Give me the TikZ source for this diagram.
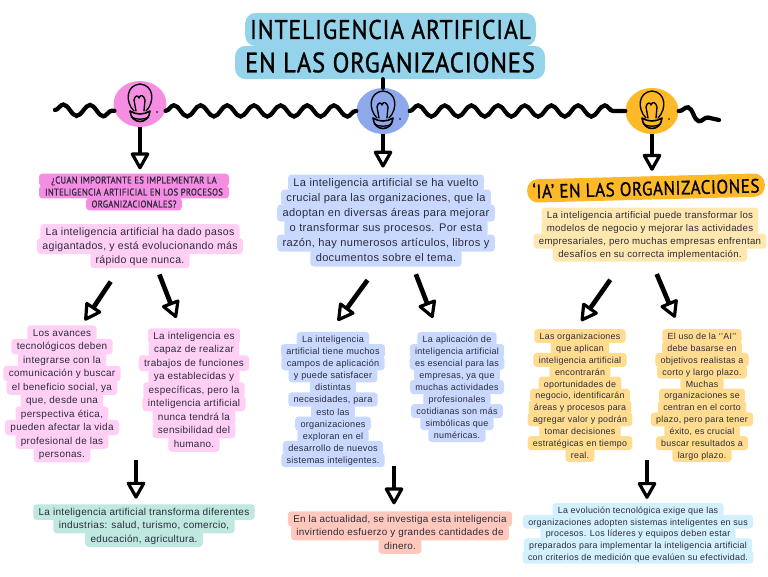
\documentclass[tikz,border=0pt]{standalone}
\usepackage{fontspec}
\usepackage{tikz}
\usetikzlibrary{arrows.meta,shapes.geometric,decorations.pathmorphing}
\newfontfamily\cuerpo[LetterSpace=3]{Liberation Sans}
\newfontfamily\rotulo[LetterSpace=3,FakeStretch=0.88,FakeBold=1]{PT Sans}
\definecolor{celeste}{HTML}{95D3EA}
\definecolor{rosa}{HTML}{F58EE3}
\definecolor{rosaclaro}{HTML}{FFCFF5}
\definecolor{azul}{HTML}{8DA9EC}
\definecolor{azulclaro}{HTML}{C9D8FF}
\definecolor{ambar}{HTML}{FDB927}
\definecolor{ambarclaro}{HTML}{FFDC90}
\definecolor{crema}{HTML}{FFE7B0}
\definecolor{verdeagua}{HTML}{BFE8E0}
\definecolor{salmon}{HTML}{FFC8BD}
\definecolor{cielo}{HTML}{D3F0FF}
\definecolor{tinta}{HTML}{2B2B3A}
\tikzset{
  tam/.style={font=\cuerpo\fontsize{#1}{#1}\selectfont},
  linea/.style={text=tinta, inner xsep=4pt, inner ysep=0pt, rounded corners=2.5pt, text height=.72em, text depth=.2em},
  blob/.style={ellipse, inner sep=0pt, minimum width=39.75pt, minimum height=34.5pt},
  trazo/.style={line width=3.5pt, line cap=round},
  onda/.style={line width=3.2pt, line cap=round, decorate, decoration={snake, segment length=20pt, amplitude=4.2pt}},
  flecha/.style={line width=3.5pt, -{Triangle[open, length=14pt, width=15pt, line width=2.4pt, round]}},
  bombilla/.pic={
    \draw[line width=1pt, line cap=round, line join=round] (-6,7) .. controls (-15,-2) and (-14,-19) .. (0,-20) .. controls (14,-19) and (15,-2) .. (6,7);
    \draw[line width=1pt, line cap=round, line join=round] (-4,7) -- (-6,-4) .. controls (-5,-9) and (-2,-9) .. (-1,-6) .. controls (0,-10) and (4,-9) .. (5,-4) -- (4,7);
    \draw[line width=1.2pt, line cap=round, line join=round] (-10,7) .. controls (-9,21) and (9,21) .. (10,7) .. controls (4,11) and (-4,11) .. (-10,7);
    \draw[line width=1pt] (-9,13) .. controls (-3,16) and (3,16) .. (9,13);
    \fill (17,8) circle (.6pt);
  }
}
% one highlighted node per printed line
\newcommand{\bloque}[6]{
  \foreach \texto [count=\i] in {#6} {
    \node[linea, #5, minimum height=(#4+2)*0.75pt] (#1-\i) at (#2,{#3+(\i-1)*#4}) {\texto};
  }
}
\begin{document}
\begin{tikzpicture}[x=0.75pt, y=-0.75pt]
  \useasboundingbox (0,0) rectangle (768,576);

  % title
  \node[fill=celeste, rounded corners=8pt, inner sep=0pt, minimum width=218pt, minimum height=25pt, font=\rotulo\fontsize{20.2}{20.2}\selectfont] (titulo1) at (390.5,29.5) {INTELIGENCIA ARTIFICIAL};
  \node[fill=celeste, rounded corners=8pt, inner sep=0pt, minimum width=232.5pt, minimum height=25pt, font=\rotulo\fontsize{21}{21}\selectfont] (titulo2) at (390,62.5) {EN LAS ORGANIZACIONES\hspace{14.5pt}};

  % bulbs and wave
  \node[blob, fill=rosa] (bulbo1) at (140,104) {};
  \node[blob, fill=azul] (bulbo2) at (383,111) {};
  \node[blob, fill=ambar] (bulbo3) at (652,111) {};
  \pic at (bulbo1) {bombilla};
  \pic at (bulbo2) {bombilla};
  \pic at (bulbo3) {bombilla};
  \coordinate (ondaizq) at (55,110);
  \coordinate (ondader) at (719,120);
  \draw[onda] (ondaizq) -- (bulbo1.195);
  \draw[onda] (bulbo1.-15) -- (bulbo2.west);
  \draw[onda] (bulbo2.east) -- (bulbo3.west);
  \draw[onda] (bulbo3.east) -- (ondader);
  \draw[trazo] (titulo2.south -| bulbo2) -- (bulbo2.north);

  % headings
  \node[linea, fill=rosa, minimum width=142.5pt, minimum height=9.6pt, font=\rotulo\fontsize{7.35}{7.35}\selectfont] (preg-1) at (134,180) {¿CUAN IMPORTANTE ES IMPLEMENTAR LA};
  \node[linea, fill=rosa, minimum width=142.5pt, minimum height=9.6pt, font=\rotulo\fontsize{7.35}{7.35}\selectfont] (preg-2) at (134,192) {INTELIGENCIA ARTIFICIAL EN LOS PROCESOS};
  \node[linea, fill=rosa, minimum height=9.6pt, font=\rotulo\fontsize{7.35}{7.35}\selectfont] (preg-3) at (134,204) {ORGANIZACIONALES?};
  \node[fill=ambar, rounded corners=8pt, inner xsep=4pt, inner ysep=3pt, rotate=1.5, font=\rotulo\fontsize{14.5}{14.5}\selectfont] (ia) at (646,188) {‘IA’ EN LAS ORGANIZACIONES};

  % left column
  \bloque{rosaa}{140}{232}{14}{fill=rosaclaro, tam=7.9}{La inteligencia artificial ha dado pasos, {agigantados, y está evolucionando más}, rápido que nunca.}
  \bloque{rosab}{62}{333}{13.5}{fill=rosaclaro, tam=7.45}{Los avances, tecnológicos deben, integrarse con la, comunicación y buscar, {el beneficio social, ya}, {que, desde una}, {perspectiva ética,}, pueden afectar la vida, profesional de las, personas.}
  \bloque{rosac}{194}{336}{13.5}{fill=rosaclaro, tam=7.45}{La inteligencia es, capaz de realizar, trabajos de funciones, ya establecidas y, {específicas, pero la}, inteligencia artificial, nunca tendrá la, sensibilidad del, humano.}
  \bloque{verde}{144}{512}{13.5}{fill=verdeagua, tam=7.5}{La inteligencia artificial transforma diferentes, {industrias: salud, turismo, comercio,}, {educación, agricultura.}}

  % middle column
  \bloque{azula}{386}{183}{15}{fill=azulclaro, tam=8.3}{La inteligencia artificial se ha vuelto, {crucial para las organizaciones, que la}, adoptan en diversas áreas para mejorar, o transformar sus procesos. Por esta, {razón, hay numerosos artículos, libros y}, documentos sobre el tema.}
  \bloque{azulb}{333}{339}{12.1}{fill=azulclaro, tam=6.85}{La inteligencia, artificial tiene muchos, campos de aplicación, y puede satisfacer, distintas, {necesidades, para}, esto las, organizaciones, exploran en el, desarrollo de nuevos, sistemas inteligentes.}
  \bloque{azulc}{457}{339}{12}{fill=azulclaro, tam=6.75}{La aplicación de, inteligencia artificial, es esencial para las, {empresas, ya que}, muchas actividades, profesionales, cotidianas son más, simbólicas que, numéricas.}
  \bloque{salm}{400}{519}{13.5}{fill=salmon, tam=7.4}{{En la actualidad, se investiga esta inteligencia}, invirtiendo esfuerzo y grandes cantidades de, dinero.}

  % right column
  \bloque{amba}{650}{215}{13}{fill=crema, tam=7.25}{La inteligencia artificial puede transformar los, modelos de negocio y mejorar las actividades, {empresariales, pero muchas empresas enfrentan}, desafíos en su correcta implementación.}
  \bloque{ambb}{580}{336}{11.9}{fill=ambarclaro, tam=6.65}{Las organizaciones, que aplican, inteligencia artificial, encontrarán, oportunidades de, {negocio, identificarán}, áreas y procesos para, agregar valor y podrán, tomar decisiones, estratégicas en tiempo, real.}
  \bloque{ambc}{702}{336}{11.9}{fill=ambarclaro, tam=6.65}{El uso de la ‘’AI’’, debe basarse en, objetivos realistas a, corto y largo plazo., Muchas, organizaciones se, centran en el corto, {plazo, pero para tener}, {éxito, es crucial}, buscar resultados a, largo plazo.}
  \bloque{ciel}{638}{510}{11.7}{fill=cielo, tam=6.65}{La evolución tecnológica exige que las, organizaciones adopten sistemas inteligentes en sus, procesos. Los líderes y equipos deben estar, preparados para implementar la inteligencia artificial, con criterios de medición que evalúen su efectividad.}

  % arrows
  \coordinate (iniverde) at (136,460);
  \coordinate (inisalm) at (394,466);
  \coordinate (iniciel) at (647,460);
  \draw[flecha, shorten >=3pt] (bulbo1.south) -- (bulbo1 |- preg-1.north);
  \draw[flecha, shorten >=5pt] (bulbo2.south) -- (bulbo2 |- azula-1.north);
  \draw[flecha, shorten >=4pt] (bulbo3.south) -- (bulbo3 |- ia.north);
  \draw[flecha, shorten <=12pt, shorten >=4pt] (rosaa-3.202) -- (rosab-1.22);
  \draw[flecha, shorten <=5pt, shorten >=8pt] (rosaa-3.-26) -- (rosac-1.150);
  \draw[flecha, shorten >=4pt] (iniverde) -- (iniverde |- verde-1.north);
  \draw[flecha, shorten <=12.4pt, shorten >=10pt] (azula-6.225) -- (azulb-1.113);
  \draw[flecha, shorten <=6pt, shorten >=11pt] (azula-6.-18) -- (azulc-1.159);
  \draw[flecha, shorten >=5pt] (inisalm) -- (inisalm |- salm-1.north);
  \draw[flecha, shorten <=16.5pt, shorten >=7pt] (amba-4.196) -- (ambb-1.120);
  \draw[flecha, shorten <=10pt, shorten >=9pt] (amba-4.-79) -- (ambc-1.162);
  \draw[flecha, shorten >=3pt] (iniciel) -- (iniciel |- ciel-1.north);
\end{tikzpicture}
\end{document}
